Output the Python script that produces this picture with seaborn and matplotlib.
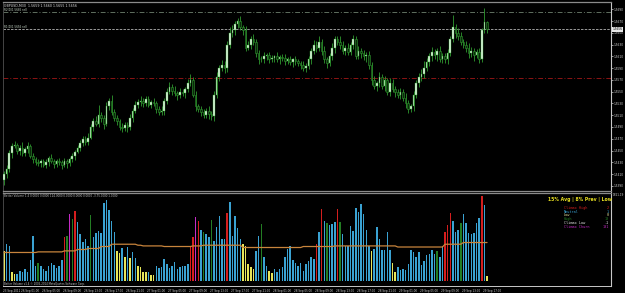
import numpy as np
import pandas as pd
import matplotlib
matplotlib.use("Agg")
import matplotlib.pyplot as plt
import seaborn as sns

# ---------------- data ----------------
# closing prices in pips (price * 10000), GBPUSD M30
closes_pips = [
    15410, 15418,
    15445, 15458,
    15460, 15450, 15455, 15445, 15452, 15458, 15440, 15435,
    15430, 15428, 15432, 15425, 15430, 15438, 15432, 15427, 15433, 15430, 15425, 15432, 15428, 15435,
    15440, 15448, 15455, 15462, 15470, 15465, 15472,
    15490, 15500, 15495,
    15510, 15505, 15495,
    15525, 15535,
    15515, 15505, 15500,
    15490, 15488, 15494, 15490,
    15505, 15518, 15528, 15532,
    15535, 15530, 15537, 15528, 15533, 15530,
    15520, 15515, 15518,
    15535, 15550, 15558, 15552,
    15548, 15545, 15550, 15547, 15555,
    15565, 15570,
    15545, 15525, 15520,
    15515, 15510, 15518, 15512, 15508,
    15545, 15575, 15590,
    15595, 15590,
    15630, 15650,
    15655, 15665, 15670, 15660, 15655,
    15625,
    15630, 15640, 15635,
    15615, 15605,
    15605, 15610, 15612, 15605, 15608, 15610, 15606, 15609,
    15608, 15603, 15605, 15600, 15605, 15602, 15598,
    15595, 15590, 15594,
    15605, 15620, 15630, 15625, 15635,
    15620, 15605, 15598, 15610,
    15625, 15640, 15635, 15630,
    15620, 15625, 15618,
    15630, 15640, 15610, 15620,
    15615, 15610, 15612,
    15595, 15570, 15560,
    15565, 15575, 15560, 15570, 15550, 15565,
    15555, 15550, 15545, 15550, 15540, 15530, 15520, 15525,
    15545, 15565, 15575, 15580, 15590,
    15600, 15610, 15618, 15612, 15620, 15605, 15610,
    15605, 15615, 15640,
    15660,
    15650, 15645, 15635, 15630,
    15625, 15615, 15620, 15612, 15618, 15605,
    15655, 15668, 15656,
]
first_open_pips = 15400
upper_wick_pips = [
    5, 8, 6, 4, 7, 3, 5, 9, 4, 6, 3, 5, 4, 6, 3, 4, 5, 3, 6, 4,
    3, 5, 4, 6, 3, 4, 5, 3, 4, 6, 5, 4, 7, 5, 6, 8, 18, 6, 5, 7,
    4, 9, 6, 5, 3, 6, 4, 5, 7, 4, 6, 5, 8, 4, 6, 5, 3, 6, 4, 5,
    7, 4, 6, 9, 5, 8, 4, 6, 5, 3, 6, 10, 5, 7, 4, 6, 5, 4, 7, 5,
    6, 8, 5, 9, 7, 6, 10, 8, 6, 5, 9, 4, 7, 6, 5, 8, 4, 6, 5, 7,
    4, 6, 5, 3, 7, 4, 5, 6, 4, 5, 3, 6, 4, 5, 7, 4, 6, 5, 8, 6,
    9, 5, 7, 4, 6, 8, 5, 4, 9, 6, 5, 7, 4, 6, 5, 8, 4, 6, 5, 7,
    5, 6, 4, 8, 5, 7, 4, 9, 6, 5, 4, 7, 5, 8, 6, 4, 7, 5, 6, 9,
    12, 7, 6, 8, 5, 4, 7, 6, 5, 8, 4, 20, 5, 9, 6, 5, 7, 8, 6, 5, 4, 6, 3, 25, 3,
]
lower_wick_pips = [
    8, 6, 5, 7, 4, 6, 8, 5, 4, 7, 3, 6, 5, 4, 6, 3, 5, 7, 4, 6,
    5, 4, 6, 3, 7, 5, 4, 6, 3, 5, 4, 6, 5, 3, 7, 4, 5, 6, 8, 4,
    6, 5, 4, 7, 5, 6, 4, 8, 5, 6, 4, 5, 7, 6, 5, 4, 6, 5, 7, 4,
    5, 8, 6, 4, 7, 5, 9, 6, 4, 8, 5, 6, 4, 7, 5, 6, 4, 5, 8, 6,
    7, 5, 6, 4, 8, 6, 5, 7, 9, 6, 5, 8, 6, 4, 7, 5, 6, 8, 5, 6,
    6, 7, 5, 8, 6, 9, 5, 7, 6, 4, 8, 6, 5, 7, 4, 6, 5, 8, 6, 7,
    5, 8, 6, 7, 4, 6, 9, 5, 7, 6, 8, 5, 6, 7, 5, 4, 8, 6, 10, 7,
    8, 6, 9, 7, 5, 8, 6, 7, 5, 9, 6, 8, 5, 7, 6, 4, 8, 5, 7, 6,
    6, 5, 7, 8, 6, 9, 5, 7, 6, 8, 5, 6, 9, 7, 5, 6, 8, 7, 6, 9, 5, 7, 4, 5, 6,
]

volumes = [
    600, 740, 700, 180, 140, 140, 200, 180, 240, 180,
    420, 900, 300, 360, 300, 240, 200, 300, 360, 320,
    260, 300, 420, 880, 900, 1340, 1240, 1400, 1180, 940,
    780, 840, 700, 1320, 880, 960, 1000, 960, 1560, 1620,
    1420, 1200, 980, 600, 560, 660, 480, 680, 460, 580,
    460, 300, 280, 180, 180, 180, 120, 120, 300, 260,
    280, 440, 340, 260, 300, 380, 240, 280, 300, 300,
    340, 700, 880, 1280, 1200, 1020, 980, 940, 880, 1220,
    800, 1080, 1300, 840, 840, 1360, 1580, 900, 1300, 1060, 840,
    740, 700, 340, 280, 240, 600, 900, 1140, 480, 300,
    200, 160, 240, 180, 240, 280, 480, 640, 700, 420,
    360, 300, 360, 200, 340, 400, 480, 440, 740, 980,
    1440, 1200, 1160, 1120, 1140, 1180, 1440, 1180, 940, 700,
    700, 1100, 1000, 1460, 1380, 1540, 1340, 1020, 700, 600,
    640, 1080, 840, 620, 620, 980, 620, 360, 180, 280,
    220, 240, 220, 340, 620, 580, 480, 580, 320, 400,
    520, 540, 620, 540, 600, 480, 700, 980, 1120, 1360,
    1200, 980, 1020, 1160, 1340, 1160, 960, 940, 960, 1160,
    1260, 1700, 1520, 100,
]
N_, L_, CH, H_, CC = "Neutral", "Low", "Climax High", "High", "Climax Churn"
volume_types = [
    L_, N_, N_, L_, L_, N_, N_, N_, N_, N_,
    N_, N_, N_, H_, N_, N_, N_, N_, N_, N_,
    N_, N_, N_, CH, H_, CC, H_, CH, N_, N_,
    N_, N_, N_, H_, N_, N_, N_, N_, N_, N_,
    N_, N_, N_, L_, L_, N_, L_, N_, L_, N_,
    N_, L_, L_, L_, L_, N_, L_, L_, N_, N_,
    N_, N_, N_, N_, N_, N_, N_, N_, N_, N_,
    N_, CH, CH, CC, CH, N_, H_, N_, N_, H_,
    N_, N_, N_, N_, N_, CH, N_, N_, N_, N_, N_,
    L_, L_, L_, L_, L_, N_, N_, H_, N_, N_,
    L_, L_, N_, N_, N_, N_, N_, N_, N_, N_,
    N_, N_, N_, N_, N_, N_, N_, N_, CH, N_,
    CH, N_, H_, N_, N_, N_, CH, H_, N_, N_,
    N_, N_, N_, N_, N_, N_, N_, N_, N_, L_,
    N_, N_, N_, N_, N_, N_, N_, L_, L_, N_,
    N_, N_, N_, N_, N_, N_, N_, N_, N_, N_,
    N_, N_, N_, N_, H_, N_, N_, CH, CH, CH,
    N_, N_, N_, H_, N_, N_, N_, N_, N_, N_,
    N_, CH, N_, L_,
]
avg_volume = ([574] * 13 + [586] * 10 + [606] * 5 + [634] * 4 + [654] * 5 + [694] * 4
              + [740] * 10 + [720] * 2 + [706] * 8 + [694] * 11 + [706] * 4 + [720] * 15
              + [674] * 23 + [694] * 12 + [706] * 24 + [684] * 18 + [740] * 7 + [774] * 10)

time_labels = ["23 Sep 2011",
               "26 Sep 01:00", "26 Sep 05:00", "26 Sep 09:00", "26 Sep 13:00", "26 Sep 17:00", "26 Sep 21:00",
               "27 Sep 01:00", "27 Sep 05:00", "27 Sep 09:00", "27 Sep 13:00", "27 Sep 17:00", "27 Sep 21:00",
               "28 Sep 01:00", "28 Sep 05:00", "28 Sep 09:00", "28 Sep 13:00", "28 Sep 17:00", "28 Sep 21:00",
               "29 Sep 01:00", "29 Sep 05:00", "29 Sep 09:00", "29 Sep 13:00", "29 Sep 17:00"]
time_label_bars = [-0.4] + [6.5 + 8 * k for k in range(23)]

price_ticks = [1.5390, 1.5410, 1.5430, 1.5450, 1.5470, 1.5490, 1.5510, 1.5530,
               1.5550, 1.5570, 1.5590, 1.5610, 1.5630, 1.5650, 1.5670, 1.5690]
level_r2 = 1.5685
level_r1 = 1.5656
level_red = 1.5574
current_price = 1.5656

legend_names = ["Climax High", "Neutral", "Low", "High", "Climax Low", "Climax Churn"]
legend_counts = ["2", "1", "0", "10", "-1", "101"]

# ---------------- build ----------------
n = len(closes_pips)
closes = np.array(closes_pips) / 10000.0
opens = np.array([first_open_pips] + closes_pips[:-1]) / 10000.0
highs = np.maximum(opens, closes) + np.array(upper_wick_pips) / 10000.0
lows = np.minimum(opens, closes) - np.array(lower_wick_pips) / 10000.0
df = pd.DataFrame({"bar": np.arange(n), "open": opens, "close": closes,
                   "high": highs, "low": lows})
dfv = pd.DataFrame({"bar": np.arange(len(volumes)), "volume": volumes, "type": volume_types})

sns.set_theme(style="dark", rc={"axes.facecolor": "black", "figure.facecolor": "black",
                                "axes.grid": False})
plt.rcParams["font.family"] = ["DejaVu Sans"]

W, Hh = 625, 293
fig = plt.figure(figsize=(W / 100, Hh / 100), dpi=100, facecolor="black")


def box(x0, y0, x1, y1):
    return [x0 / W, 1 - y1 / Hh, (x1 - x0) / W, (y1 - y0) / Hh]


RIGHT = 611
axp = fig.add_axes(box(3, 1.5, RIGHT, 190.5))
axv = fig.add_axes(box(3, 192.5, RIGHT, 286))
xmin, xmax = -0.4, -0.4 + (RIGHT - 3) / 2.625

for ax in (axp, axv):
    ax.set_facecolor("black")
    ax.set_xlim(xmin, xmax)
    for s in ("top", "bottom"):
        ax.spines[s].set_color("#8a8a8a")
        ax.spines[s].set_linewidth(0.9)
    ax.spines["right"].set_color("#c8c8c8")
    ax.spines["right"].set_linewidth(0.8)
    ax.spines["left"].set_color("#505050")
    ax.spines["left"].set_linewidth(0.6)
axv.spines["bottom"].set_color("#c8c8c8")
axv.spines["bottom"].set_linewidth(0.7)

# ---- price panel: candlesticks ----
wick_col = "#2f9a2f"
axp.vlines(df["bar"], df["low"], df["high"], color=wick_col, lw=0.6, zorder=2)
bull = df["close"] >= df["open"]
body_h = np.maximum((df["close"] - df["open"]).abs(), 0.00004)
body_b = np.minimum(df["open"], df["close"])
axp.bar(df["bar"][bull], body_h[bull], bottom=body_b[bull], width=0.62,
        color="#e4fbe4", edgecolor=wick_col, linewidth=0.3, zorder=3)
axp.bar(df["bar"][~bull], body_h[~bull], bottom=body_b[~bull], width=0.62,
        color="#0b2a0b", edgecolor=wick_col, linewidth=0.4, zorder=3)

axp.set_ylim(1.5382, 1.57034)
axp.axhline(level_r2, color="#5f6f5f", lw=0.7, ls=(0, (5, 2, 1, 2)), zorder=1)
axp.axhline(level_r1, color="#b4b4b4", lw=0.6, ls=(0, (3, 1.5)), zorder=1)
axp.axhline(level_red, color="#8c1414", lw=0.7, ls=(0, (5, 2, 1, 2)), zorder=1)

axp.yaxis.tick_right()
axp.set_yticks(price_ticks)
axp.set_yticklabels([f"{t:.4f}" for t in price_ticks])
axp.tick_params(axis="y", colors="#d0d0d0", labelsize=2.05, length=1.5, width=0.5, pad=0.6)
axp.set_xticks([])
axp.set_xlabel("")
axp.set_ylabel("")
axp.text(1.003, current_price, f"{current_price:.4f}", transform=axp.get_yaxis_transform(),
         fontsize=2.05, color="black", va="center", ha="left",
         bbox=dict(boxstyle="square,pad=0.15", fc="#e8e8e8", ec="none"))

axp.text(0.001, 0.985, "GBPUSD,M30  1.5659 1.5660 1.5655 1.5656", transform=axp.transAxes,
         fontsize=2.3, color="#e0e0e0", va="top", ha="left")
axp.text(0.001, level_r2, "R2(D)1.5685 sell", transform=axp.get_yaxis_transform(),
         fontsize=2.0, color="#c8d8c8", va="bottom", ha="left")
axp.text(0.001, level_r1, "R1(D)1.5656 sell", transform=axp.get_yaxis_transform(),
         fontsize=2.0, color="#c8d8c8", va="bottom", ha="left")

# ---- volume panel ----
palette = {N_: "#3aa2d2", L_: "#e6e65a", CH: "#d41e1e", H_: "#237d23", CC: "#c62ac6"}
sns.barplot(data=dfv, x="bar", y="volume", hue="type", palette=palette, dodge=False,
            native_scale=True, width=0.55, saturation=1, legend=False, linewidth=0, ax=axv)
sns.lineplot(x=np.arange(len(avg_volume)), y=avg_volume, color="#c8843c", lw=0.9, ax=axv,
             zorder=5)
axv.set_xlim(xmin, xmax)
axv.set_ylim(-100, 1780)
axv.set_xlabel("")
axv.set_ylabel("")
axv.set_yticks([])
axv.set_xticks(time_label_bars)
axv.set_xticklabels(time_labels, fontsize=1.95, color="#d0d0d0", ha="left")
axv.tick_params(axis="x", colors="#b0b0b0", length=1.5, width=0.5, pad=0.6, labelcolor="#d0d0d0")

axv.text(0.001, 0.985, "Better Volume 1.4 0.0000 0.0000 124.0000 0.0000 0.0000 0.0000 -3.75.0000 1.0000",
         transform=axv.transAxes, fontsize=2.0, color="#c0c0c0", va="top", ha="left")
axv.text(0.001, 0.0, "Better Volume v1.4 \u00a9 2005-2014 MetaQuotes Software Corp.",
         transform=axv.transAxes, fontsize=1.9, color="#c0c0c0", va="bottom", ha="left")
fig.text(613 / W, 1 - 195 / Hh, "1821.19", fontsize=2.0, color="#d0d0d0", va="center", ha="left")

fig.text(548 / W, 1 - 199 / Hh, "15% Avg | 8% Prev | Low", fontsize=3.3, fontweight="bold",
         color="#e8e020", va="center", ha="left")
legend_colors = ["#d41e1e", "#3aa2d2", "#e6e6a0", "#237d23", "#e8e8e8", "#c62ac6"]
for k, (name, cnt, col) in enumerate(zip(legend_names, legend_counts, legend_colors)):
    yy = 1 - (208 + 3.7 * k) / Hh
    fig.text(564 / W, yy, name, fontsize=2.5, family="DejaVu Sans Mono", color=col,
             va="center", ha="left")
    fig.text(609 / W, yy, cnt, fontsize=2.5, family="DejaVu Sans Mono", color=col,
             va="center", ha="right")

fig.savefig("out.png", dpi=100, facecolor="black")
